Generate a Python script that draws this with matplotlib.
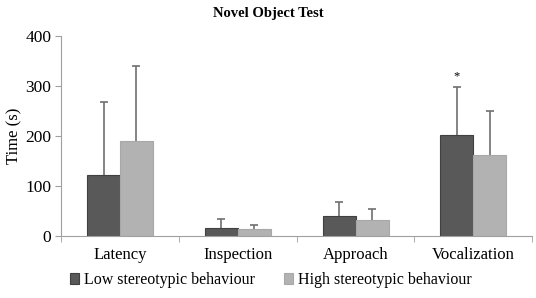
import matplotlib.pyplot as plt
import numpy as np

plt.rcParams['font.family'] = ['Liberation Serif', 'DejaVu Serif']

categories = ['Latency', 'Inspection', 'Approach', 'Vocalization']
low_vals = [122, 17, 40, 203]
low_err = [147, 17, 28, 95]
high_vals = [190, 14, 32, 162]
high_err = [151, 8, 22, 88]
series_names = ['Low stereotypic behaviour', 'High stereotypic behaviour']

fig = plt.figure(figsize=(5.36, 2.98), dpi=100)
ax = fig.add_axes([0.114, 0.208, 0.879, 0.671])

x = np.arange(len(categories))
w = 0.28
low_col = '#595959'
high_col = '#b2b2b2'
err_col = '#707070'

b1 = ax.bar(x - w / 2, low_vals, w, color=low_col, edgecolor='#404040', linewidth=0.8,
            label=series_names[0], zorder=2)
b2 = ax.bar(x + w / 2, high_vals, w, color=high_col, edgecolor='#a8a8a8', linewidth=0.8,
            label=series_names[1], zorder=2)

# upper-only error bars (no cap at the bar top)
for xs, vals, errs in [(x - w / 2, low_vals, low_err), (x + w / 2, high_vals, high_err)]:
    tops = np.array(vals) + np.array(errs)
    ax.vlines(xs, vals, tops, color=err_col, linewidth=1.2, zorder=1)
    ax.plot(xs, tops, linestyle='none', marker='_', markersize=6, markeredgewidth=1.2,
            color=err_col, zorder=1)

# significance marker
ax.text(x[3] - w / 2, low_vals[3] + low_err[3] + 10, '*', ha='center', va='bottom', fontsize=9)

ax.set_xlim(-0.5, 3.5)
ax.set_ylim(0, 400)
ax.set_yticks([0, 100, 200, 300, 400])
ax.set_xticks(x)
ax.set_xticklabels(categories, fontsize=12)
ax.tick_params(axis='x', which='major', length=0, pad=8)
ax.set_xticks(np.arange(-0.5, 4.0, 1.0), minor=True)
ax.tick_params(axis='x', which='minor', length=4, color='#a0a0a0', direction='out')
ax.tick_params(axis='y', labelsize=12.5, length=4, color='#a0a0a0', pad=3)

for s in ['top', 'right']:
    ax.spines[s].set_visible(False)
for s in ['left', 'bottom']:
    ax.spines[s].set_color('#a0a0a0')

ax.set_ylabel('Time (s)', fontsize=12, labelpad=2)
fig.text(0.5, 0.955, 'Novel Object Test', ha='center', va='center', fontsize=10.5, fontweight='bold')

fig.legend(handles=[b1, b2], loc='lower center', bbox_to_anchor=(0.505, -0.015), ncol=2,
           frameon=False, fontsize=11.5, handlelength=0.6, handleheight=0.6,
           handletextpad=0.3, columnspacing=1.8)

fig.savefig('out.png', dpi=100)
